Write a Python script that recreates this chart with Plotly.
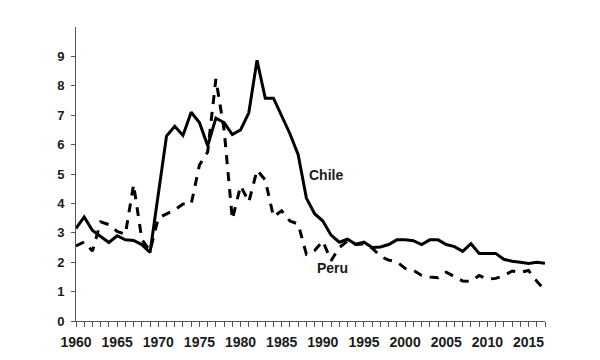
import plotly.graph_objects as go

years = list(range(1960, 2018))

chile = [3.15, 3.54, 3.08, 2.88, 2.67, 2.90, 2.76, 2.74, 2.60, 2.33,
         4.38, 6.29, 6.62, 6.31, 7.10, 6.75, 5.96, 6.90, 6.75, 6.34,
         6.50, 7.08, 8.87, 7.58, 7.58, 6.98, 6.37, 5.66, 4.18, 3.65,
         3.40, 2.92, 2.68, 2.78, 2.61, 2.68, 2.50, 2.52, 2.60, 2.76,
         2.76, 2.73, 2.60, 2.76, 2.76, 2.60, 2.53, 2.37, 2.63, 2.30,
         2.30, 2.30, 2.10, 2.03, 2.00, 1.96, 2.00, 1.96]

peru = [2.55, 2.69, 2.38, 3.37, 3.28, 3.05, 2.95, 4.64, 2.78, 2.38,
        3.50, 3.65, 3.78, 3.98, 3.98, 5.30, 5.75, 8.23, 6.50, 3.46,
        4.60, 4.05, 5.13, 4.80, 3.55, 3.75, 3.40, 3.30, 2.27, 2.40,
        2.72, 2.05, 2.50, 2.72, 2.60, 2.62, 2.48, 2.20, 2.07, 2.01,
        1.79, 1.73, 1.55, 1.50, 1.47, 1.66, 1.50, 1.36, 1.35, 1.55,
        1.42, 1.45, 1.54, 1.70, 1.65, 1.72, 1.35, 1.05]

x_tick_years = list(range(1960, 2016, 5))
y_ticks = list(range(0, 10))

font_family = "Liberation Sans, Arial, sans-serif"
text_color = "#1a1a1a"
axis_color = "#555555"

fig = go.Figure()
fig.add_trace(go.Scatter(x=years, y=chile, mode="lines", name="Chile",
                         line=dict(color="black", width=3)))
fig.add_trace(go.Scatter(x=years, y=peru, mode="lines", name="Peru",
                         line=dict(color="black", width=3, dash="9px,8px")))

fig.add_annotation(x=1988.05, y=4.97, xref="x", yref="y", text="<b>Chile</b>",
                   showarrow=False, xanchor="left", yanchor="middle",
                   font=dict(family=font_family, size=14, color=text_color))
fig.add_annotation(x=1989.05, y=1.79, xref="x", yref="y", text="<b>Peru</b>",
                   showarrow=False, xanchor="left", yanchor="middle",
                   font=dict(family=font_family, size=14, color=text_color))

fig.update_layout(
    width=600, height=360,
    margin=dict(l=68, r=63, t=19, b=47),
    paper_bgcolor="white", plot_bgcolor="white",
    showlegend=False,
    font=dict(family=font_family, color=text_color),
    xaxis=dict(
        range=[1960, 2017], showgrid=False, zeroline=False,
        showline=True, linecolor=axis_color, linewidth=1,
        tickmode="array", tickvals=x_tick_years,
        ticktext=[f"<b>{y}</b>" for y in x_tick_years],
        ticks="outside", ticklen=5, tickcolor=axis_color, tickwidth=1,
        ticklabelstandoff=3,
        minor=dict(dtick=1, tick0=1960, ticks="outside", ticklen=5,
                   tickcolor=axis_color, tickwidth=1, showgrid=False),
        tickfont=dict(family=font_family, size=14, color=text_color),
    ),
    yaxis=dict(
        range=[0, 10], showgrid=False, zeroline=False,
        showline=True, linecolor=axis_color, linewidth=1,
        tickmode="array", tickvals=y_ticks,
        ticktext=[f"<b>{v}</b>" for v in y_ticks],
        ticks="outside", ticklen=4, tickcolor=axis_color, tickwidth=1,
        ticklabelstandoff=4,
        tickfont=dict(family=font_family, size=13, color=text_color),
    ),
)

fig.write_html("out.html")
